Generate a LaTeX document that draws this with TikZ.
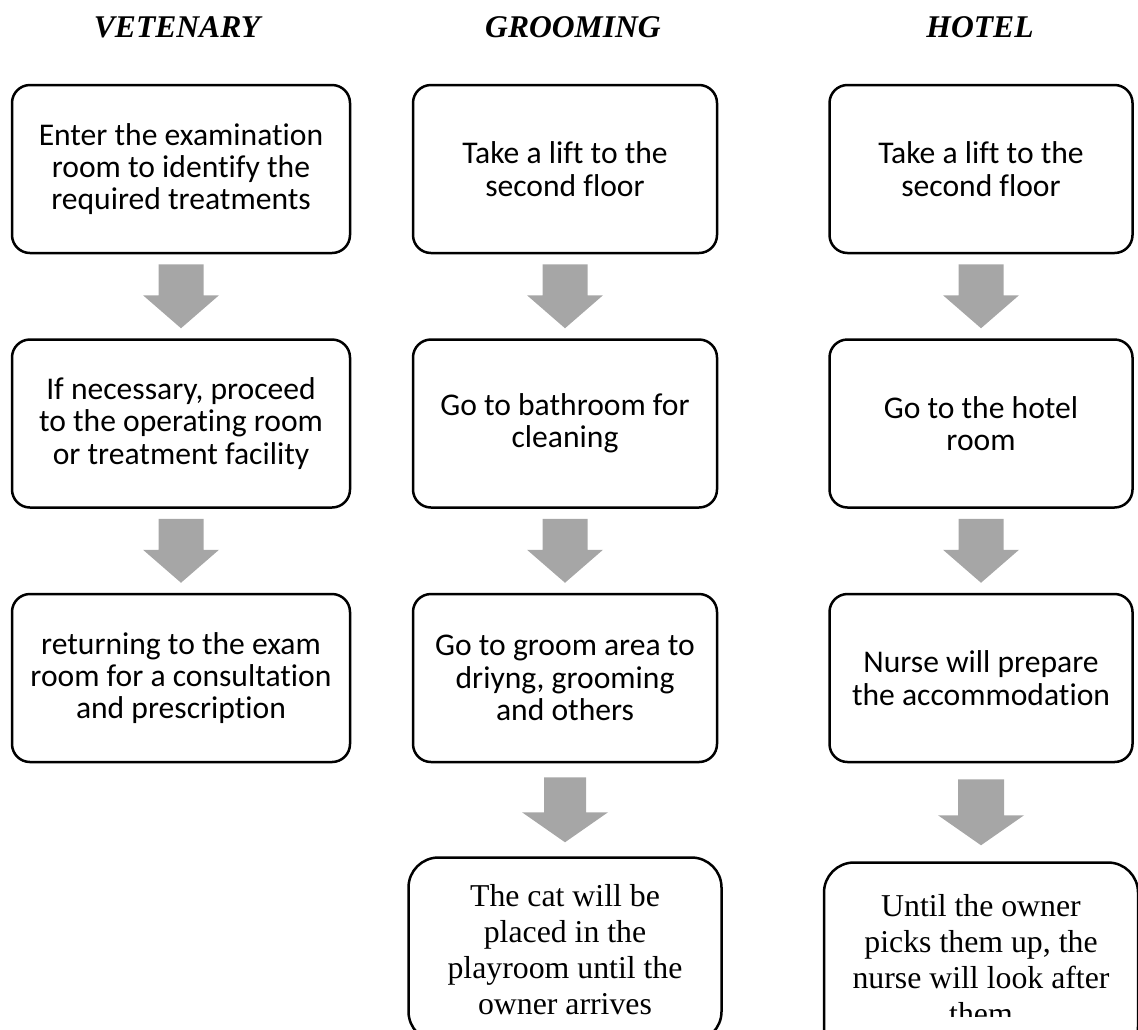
\documentclass[tikz,border=0pt]{standalone}
\usepackage{fontspec}
\setmainfont{Carlito}[Ligatures=NoCommon]
\newfontfamily\timesfont{Liberation Serif}
\usepackage{tikz}
\usetikzlibrary{positioning, calc}
\definecolor{arrowgray}{HTML}{A6A6A6}

\newcommand{\blockarrow}[6]{%
  \fill[arrowgray] ($(#1.south)+(-#3/2,#6)$) -- ($(#1.south)+(#3/2,#6)$)
    -- ($(#1.south |- #2.north)+(#3/2,-#6-#5)$) -- ($(#1.south |- #2.north)+(#4/2,-#6-#5)$)
    -- ($(#1.south |- #2.north)+(0,-#6)$)
    -- ($(#1.south |- #2.north)+(-#4/2,-#6-#5)$) -- ($(#1.south |- #2.north)+(-#3/2,-#6-#5)$)
    -- cycle;}

\begin{document}
\begin{tikzpicture}[
    x=0.5pt, y=-0.5pt,
    stepbox/.style={draw=black, line width=1.25pt, rounded corners=9pt, align=center, minimum height=84pt, inner sep=2pt, font=\fontsize{15.8}{16.2}\selectfont},
    endbox/.style={stepbox, rounded corners=15pt, font=\timesfont\fontsize{15.9}{18}\selectfont},
    endtext/.style={align=center, inner sep=0pt, font=\timesfont\fontsize{15.9}{18}\selectfont},
    lanehead/.style={anchor=base, font=\timesfont\bfseries\itshape\fontsize{15.8}{18}\selectfont}
  ]
    \useasboundingbox (0,0) rectangle (1138,1029);
    \clip (0,0) rectangle (1138,1029);
    \node[lanehead] (hdvet) at (177,37) {VETENARY};
    \node[lanehead] (hdgroom) at (573,37) {GROOMING};
    \node[lanehead] (hdhotel) at (980,37) {HOTEL};
    \node[stepbox, minimum width=169pt] (v1) at (181,169) {Enter the examination\\room to identify the\\required treatments};
    \node[stepbox, minimum width=169pt, below=42pt of v1] (v2) {If necessary, proceed\\to the operating room\\or treatment facility};
    \node[stepbox, minimum width=169pt, below=42pt of v2] (v3) {returning to the exam\\room for a consultation\\and prescription};
    \node[stepbox, minimum width=152pt] (g1) at (565,169) {Take a lift to the\\second floor};
    \node[stepbox, minimum width=152pt, below=42pt of g1] (g2) {Go to bathroom for\\cleaning};
    \node[stepbox, minimum width=152pt, below=42pt of g2] (g3) {Go to groom area to\\driyng, grooming\\and others};
    \node[endbox, minimum width=156.5pt, minimum height=92pt, below=46.5pt of g3] (g4) {The cat will be\\placed in the\\playroom until the\\owner arrives};
    \node[stepbox, minimum width=151.5pt] (h1) at (981,169) {Take a lift to the\\second floor};
    \node[stepbox, minimum width=151.5pt, below=42pt of h1] (h2) {Go to the hotel\\room};
    \node[stepbox, minimum width=151.5pt, below=42pt of h2] (h3) {Nurse will prepare\\the accommodation};
    \node[endbox, minimum width=157pt, minimum height=97pt, below=49pt of h3] (h4) {};
    \begin{scope}
      \clip (h4.north west) rectangle (1138,1016);
      \node[endtext] (h4txt) at (h4) {Until the owner\\picks them up, the\\nurse will look after\\them};
    \end{scope}
    \blockarrow{v1}{v2}{45}{76}{33}{10}
    \blockarrow{v2}{v3}{45}{76}{33}{10}
    \blockarrow{g1}{g2}{45}{76}{33}{10}
    \blockarrow{g2}{g3}{45}{76}{33}{10}
    \blockarrow{h1}{h2}{45}{76}{33}{10}
    \blockarrow{h2}{h3}{45}{76}{33}{10}
    \blockarrow{g3}{g4}{42}{86}{30}{14}
    \blockarrow{h3}{h4}{46}{86}{30}{16}
\end{tikzpicture}
\end{document}
